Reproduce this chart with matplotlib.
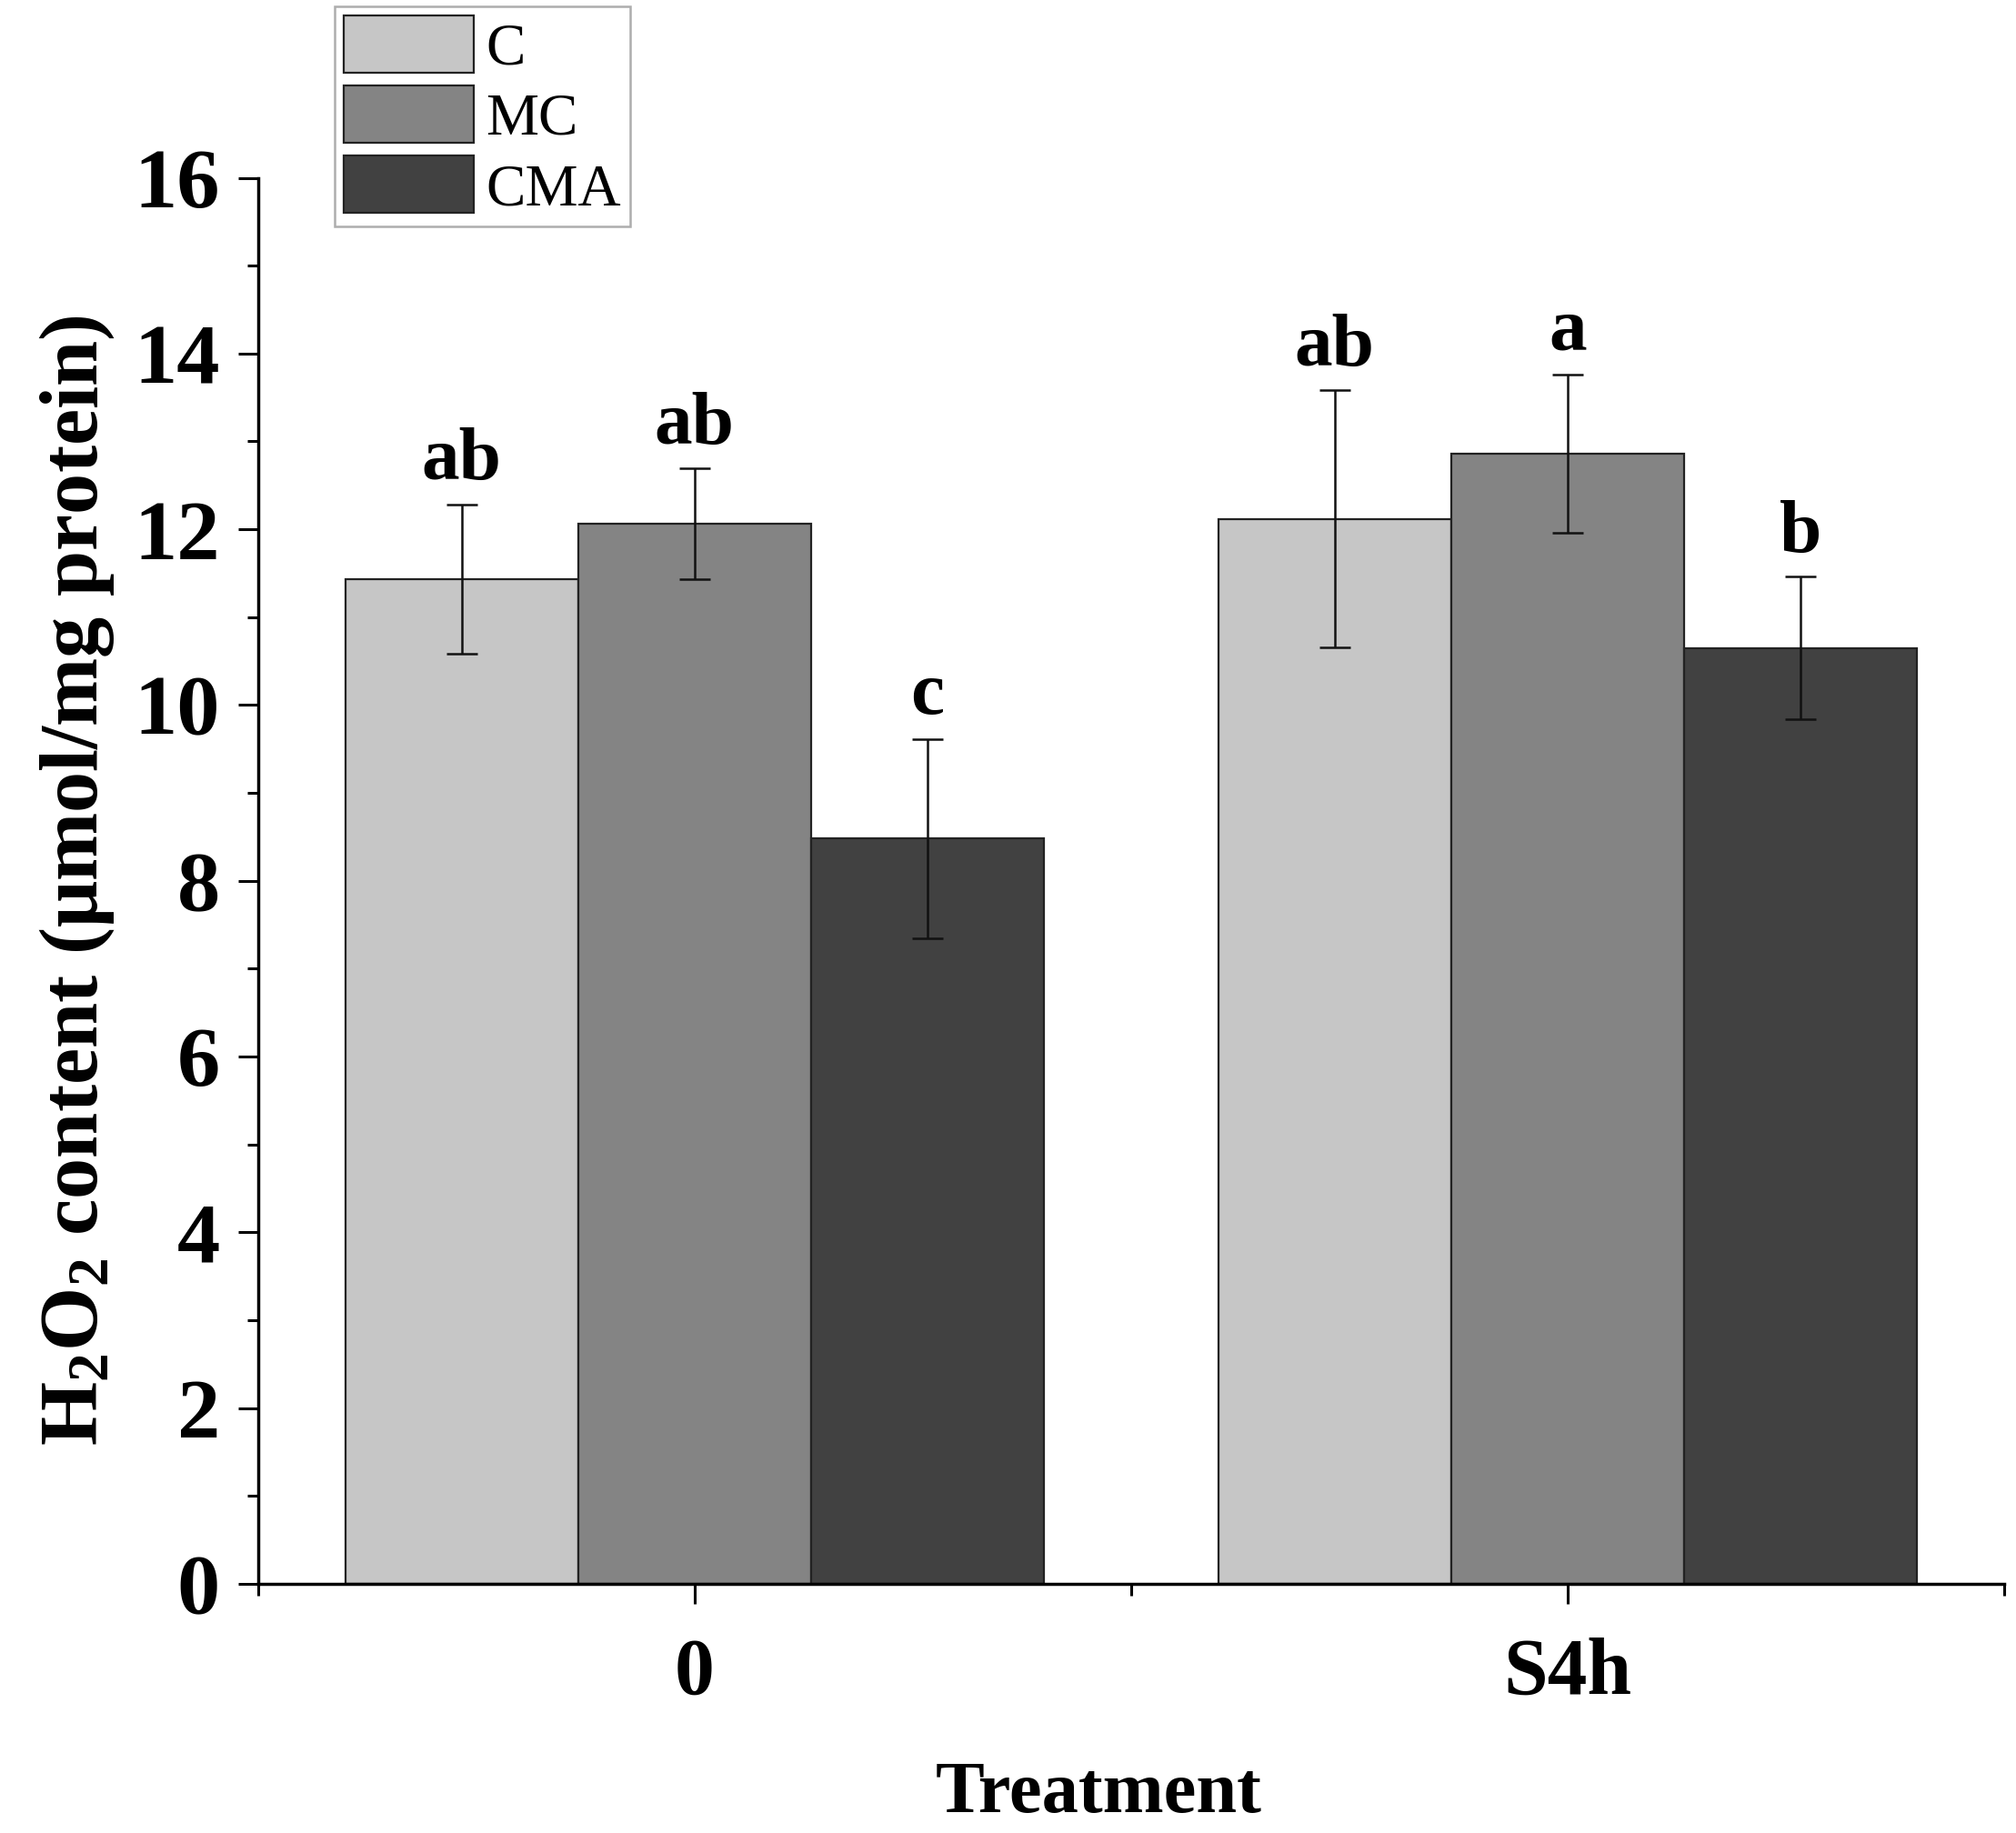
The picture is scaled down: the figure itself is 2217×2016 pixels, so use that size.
import numpy as np
import matplotlib
matplotlib.use("Agg")
import matplotlib.pyplot as plt
from matplotlib.ticker import MultipleLocator

plt.rcParams['font.family'] = ['Liberation Serif', 'DejaVu Serif']
plt.rcParams['mathtext.fontset'] = 'custom'
plt.rcParams['mathtext.rm'] = 'Liberation Serif'
plt.rcParams['mathtext.bf'] = 'Liberation Serif:bold'
plt.rcParams['mathtext.default'] = 'bf'

groups = ['0', 'S4h']
series = ['C', 'MC', 'CMA']
colors = ['#c6c6c6', '#848484', '#414141']
values = {
    'C':   [11.43, 12.12],
    'MC':  [12.06, 12.86],
    'CMA': [8.48, 10.65],
}
errors = {
    'C':   [0.85, 1.46],
    'MC':  [0.63, 0.90],
    'CMA': [1.13, 0.81],
}
letters = {
    'C':   ['ab', 'ab'],
    'MC':  ['ab', 'a'],
    'CMA': ['c', 'b'],
}

fig = plt.figure(figsize=(22.17, 20.16), dpi=100)
ax = fig.add_axes([0.128, 0.136, 0.866, 0.767])

x = np.arange(len(groups))
width = 0.8 / 3
for i, s in enumerate(series):
    pos = x + (i - 1) * width
    ax.bar(pos, values[s], width, color=colors[i], edgecolor='#222222',
           linewidth=1.6, label=s, zorder=2)
    ax.errorbar(pos, values[s], yerr=errors[s], fmt='none', ecolor='#111111',
                elinewidth=1.8, capsize=12, capthick=1.8, zorder=3)
    for p, v, e, t in zip(pos, values[s], errors[s], letters[s]):
        ax.text(p, v + e + 0.1, t, ha='center', va='bottom', fontsize=60,
                fontweight='bold')

ax.set_xlim(-0.5, 1.5)
ax.set_ylim(0, 16)
ax.set_xticks(x)
ax.set_xticklabels(groups)
ax.xaxis.set_minor_locator(MultipleLocator(0.5))
ax.yaxis.set_major_locator(MultipleLocator(2))
ax.yaxis.set_minor_locator(MultipleLocator(1))

for side in ['top', 'right']:
    ax.spines[side].set_visible(False)
for side in ['left', 'bottom']:
    ax.spines[side].set_linewidth(2.5)

ax.tick_params(axis='both', which='major', direction='out', length=16, width=2.2,
               labelsize=68, pad=14)
ax.tick_params(axis='both', which='minor', direction='out', length=9, width=2.2)
ax.tick_params(axis='x', which='major', labelsize=63, pad=26)
for lab in ax.get_xticklabels() + ax.get_yticklabels():
    lab.set_fontweight('bold')

ax.set_ylabel(r'H$_2$O$_2$ content (μmol/mg protein)', fontsize=65,
              fontweight='bold', labelpad=14)
fig.text(0.545, 0.021, 'Treatment', ha='center', va='center', fontsize=58,
         fontweight='bold')

leg = fig.legend(loc='upper left', bbox_to_anchor=(0.166, 0.9965),
                 fontsize=47, frameon=True, fancybox=False, borderaxespad=0,
                 handlelength=2.2, handleheight=1.1, labelspacing=0.15,
                 handletextpad=0.2, borderpad=0.15)
leg.get_frame().set_edgecolor('#999999')
leg.get_frame().set_linewidth(1.8)

fig.savefig('out.png', dpi=100)
